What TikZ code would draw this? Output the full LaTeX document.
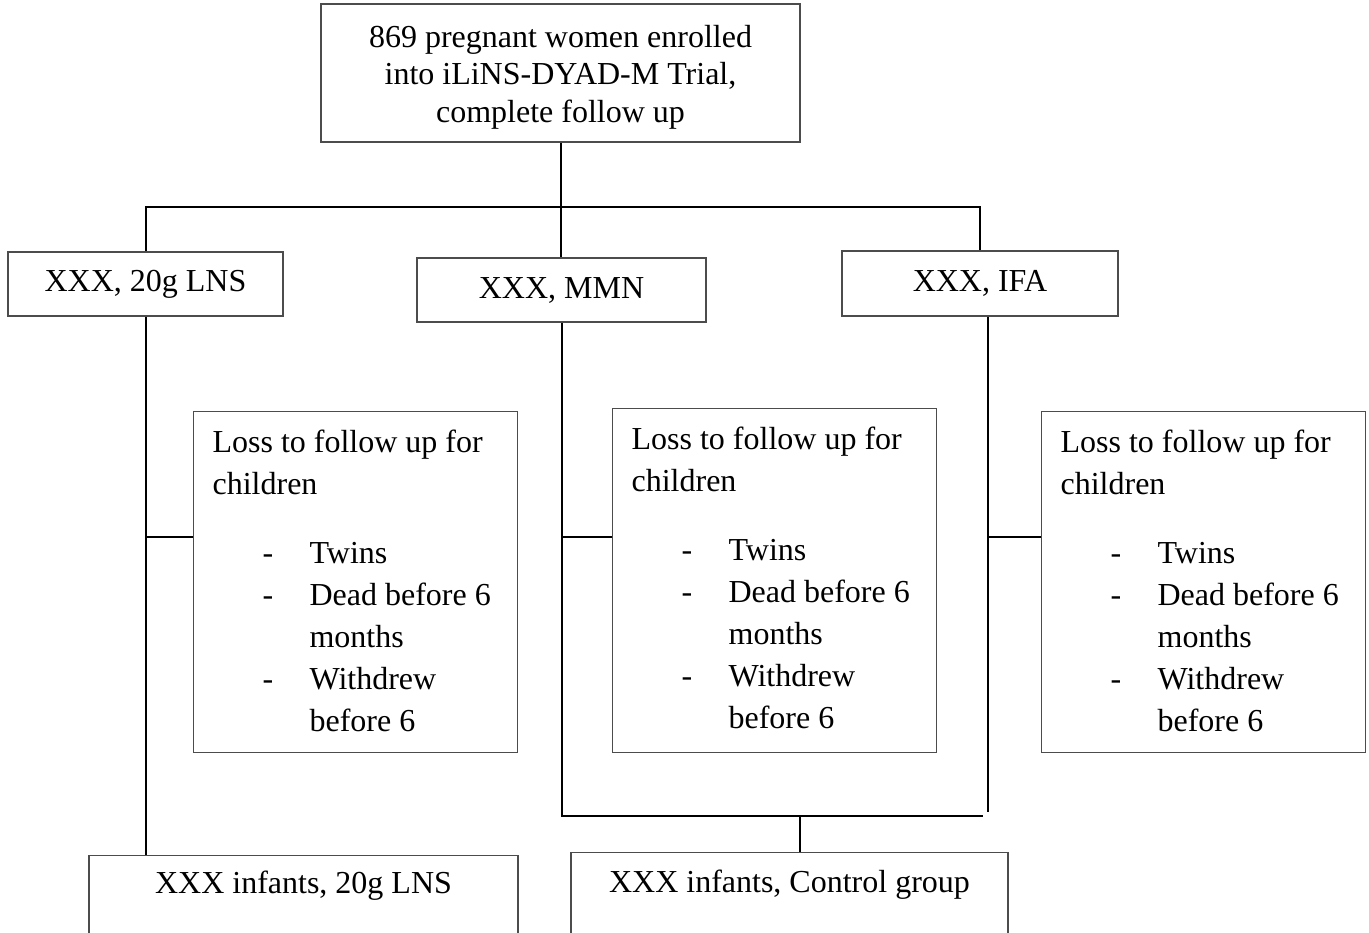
\documentclass[tikz,border=0pt]{standalone}
\usepackage{fontspec}
\setmainfont{Liberation Serif}
\usetikzlibrary{calc}
\newlength\pxu
\setlength\pxu{0.75pt}
\newcommand\lossbody[1]{\parbox[t][#1\pxu][t]{286\pxu}{%
\rule{0pt}{41\pxu}Loss to follow up for\\
children\\[27\pxu]
\hspace*{50\pxu}\makebox[47\pxu][l]{-}Twins\\
\hspace*{50\pxu}\makebox[47\pxu][l]{-}Dead before 6\\
\hspace*{97\pxu}months\\
\hspace*{50\pxu}\makebox[47\pxu][l]{-}Withdrew\\
\hspace*{97\pxu}before 6}}
\tikzset{
  box/.style={draw=black!70, line width=1.2\pxu, inner sep=0pt, font=\fontsize{24}{28.1}\selectfont},
  lossbox/.style={draw=black!70, line width=1.2\pxu, inner xsep=19\pxu, inner ysep=0pt, anchor=north west, font=\fontsize{24}{31.5}\selectfont},
  conn/.style={draw=black, line width=2\pxu},
}
\begin{document}
\begin{tikzpicture}[x=1\pxu, y=-1\pxu]
\useasboundingbox (0,0) rectangle (1369,932);
\clip (0,0) rectangle (1369,932);

\node[box, minimum width=479\pxu, minimum height=138\pxu, align=center] (top) at (560.5,73)
  {\rule{0pt}{30\pxu}869 pregnant women enrolled\\into iLiNS-DYAD-M Trial,\\complete follow up};

\node[box, minimum width=275\pxu, minimum height=64\pxu] (lns) at (145.5,284) {XXX, 20g LNS};
\node[box, minimum width=289\pxu, minimum height=64\pxu] (mmn) at (561.5,290) {XXX, MMN};
\node[box, minimum width=276\pxu, minimum height=65\pxu] (ifa) at (980,283.5) {XXX, IFA};

\node[lossbox] (loss1) at (193,411) {\lossbody{341}};
\node[lossbox] (loss2) at (612,408) {\lossbody{344}};
\node[lossbox] (loss3) at (1041,411) {\lossbody{341}};

\node[box, anchor=north, minimum width=429\pxu, text height=38\pxu, text depth=120\pxu] (inf1) at (303.5,855) {XXX infants, 20g LNS};
\node[box, anchor=north, minimum width=437\pxu, text height=40\pxu, text depth=120\pxu] (inf2) at (789.5,852) {XXX infants, Control group};

\coordinate (bus) at (563,207);
\coordinate (bend) at (983,816);
\coordinate (bbus) at (800,816);
\coordinate (ifadown) at (988,812);

\draw[conn] (top.south) -- (top.south |- mmn.north);
\draw[conn] (lns.north) |- (bus) -| (ifa.north);

\draw[conn] (lns.south) -- (lns.south |- inf1.north);
\path ($(loss1.north west)+(0,126)$) coordinate (b1);
\draw[conn] (b1) -- (b1 -| lns.south);

\draw[conn] (mmn.south) |- (bend);
\path ($(loss2.north west)+(0,129)$) coordinate (b2);
\draw[conn] (b2) -- (b2 -| mmn.south);

\draw[conn] (ifa.south -| ifadown) -- (ifadown);
\path ($(loss3.north west)+(0,126)$) coordinate (b3);
\draw[conn] (b3) -- (b3 -| ifadown);

\draw[conn] (bbus) -- (bbus |- inf2.north);
\end{tikzpicture}
\end{document}
